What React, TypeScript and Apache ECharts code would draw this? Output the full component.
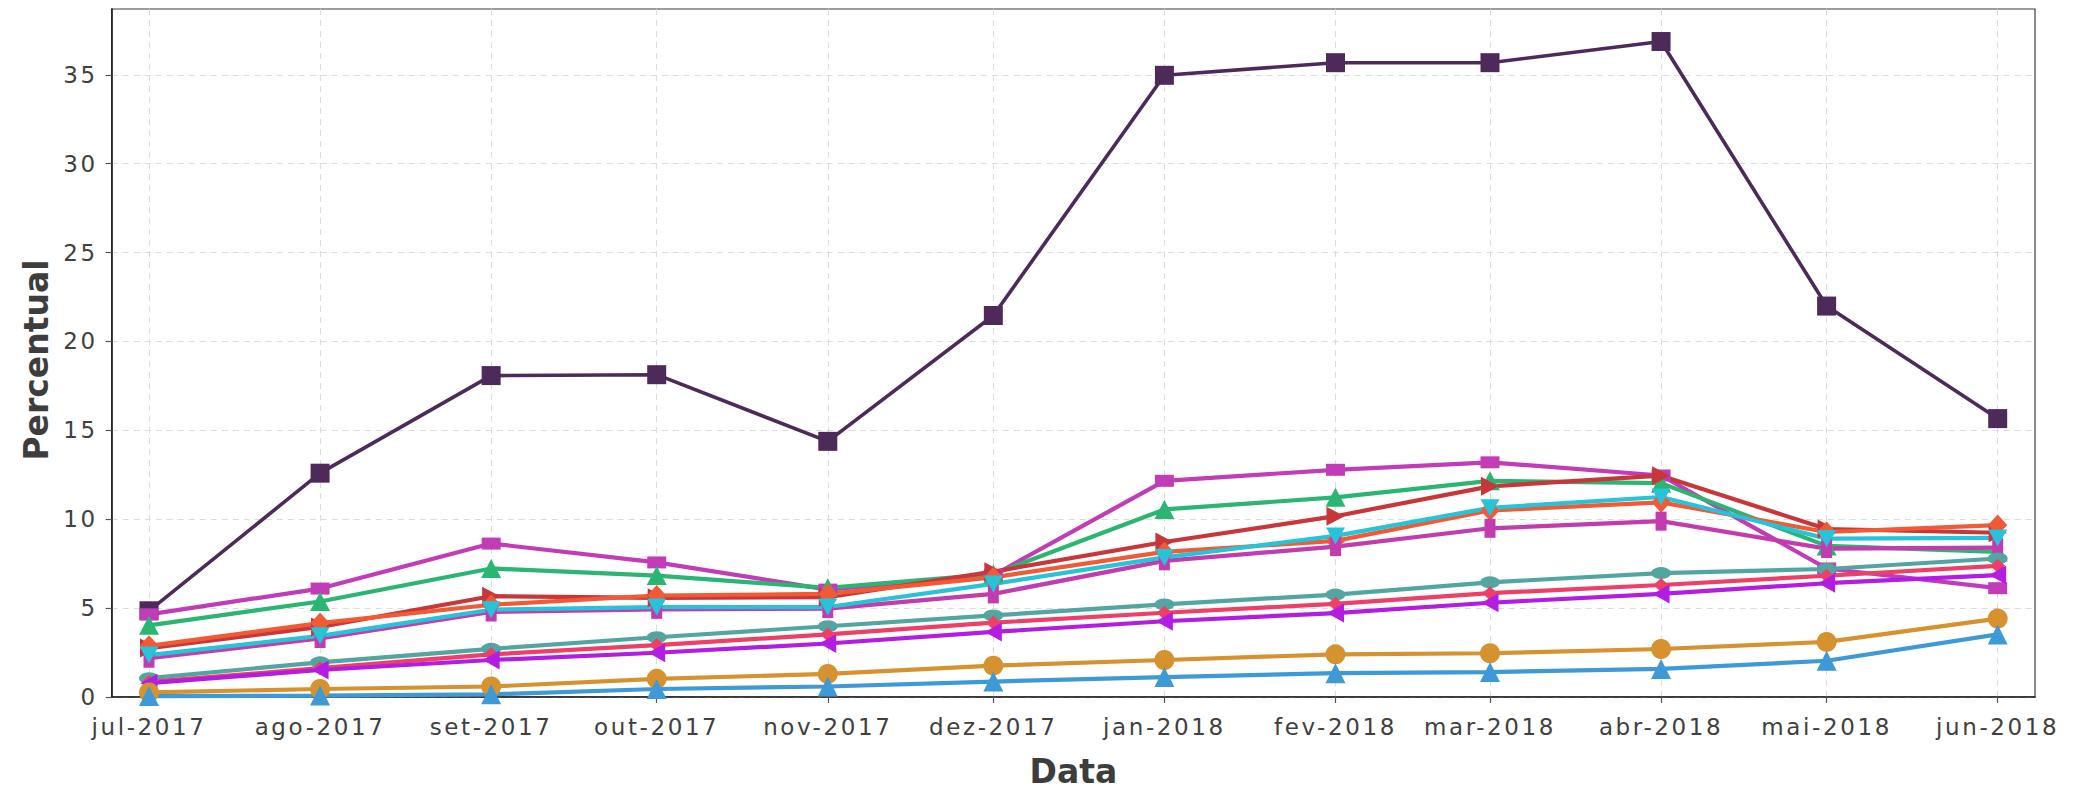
import React, { useEffect, useRef } from 'react';
import * as echarts from 'echarts';

// ---- data ----
const monthDates = [
  '2017-07-01', '2017-08-01', '2017-09-01', '2017-10-01', '2017-11-01', '2017-12-01',
  '2018-01-01', '2018-02-01', '2018-03-01', '2018-04-01', '2018-05-01', '2018-06-01',
];
const monthLabels = [
  'jul-2017', 'ago-2017', 'set-2017', 'out-2017', 'nov-2017', 'dez-2017',
  'jan-2018', 'fev-2018', 'mar-2018', 'abr-2018', 'mai-2018', 'jun-2018',
];
const yTicks = [0, 5, 10, 15, 20, 25, 30, 35];

const serieTopo = [4.85, 12.59, 18.08, 18.13, 14.38, 21.46, 34.97, 35.68, 35.68, 36.87, 21.99, 15.66];
const serieMagentaQ = [4.65, 6.1, 8.63, 7.57, 6.04, 6.85, 12.16, 12.78, 13.2, 12.46, 7.23, 6.12];
const serieVerde = [4.03, 5.37, 7.23, 6.83, 6.14, 6.92, 10.55, 11.23, 12.16, 12.03, 8.5, 8.16];
const serieVermelho = [2.75, 3.94, 5.67, 5.58, 5.61, 7.05, 8.72, 10.17, 11.85, 12.45, 9.45, 9.24];
const serieLaranjaLos = [2.88, 4.16, 5.19, 5.71, 5.8, 6.73, 8.16, 8.78, 10.49, 10.95, 9.28, 9.67];
const serieMagentaB = [2.18, 3.29, 4.78, 4.93, 4.97, 5.8, 7.66, 8.46, 9.49, 9.89, 8.35, 8.4];
const serieCiano = [2.36, 3.44, 4.91, 5.06, 5.06, 6.36, 7.85, 9.06, 10.64, 11.25, 8.91, 8.95];
const serieTeal = [1.06, 1.95, 2.71, 3.36, 3.98, 4.59, 5.21, 5.76, 6.45, 6.97, 7.2, 7.79];
const serieRosa = [0.85, 1.62, 2.4, 2.92, 3.52, 4.18, 4.74, 5.24, 5.84, 6.3, 6.82, 7.38];
const serieRoxo = [0.78, 1.52, 2.08, 2.49, 3.01, 3.66, 4.26, 4.72, 5.3, 5.8, 6.4, 6.86];
const serieLaranja = [0.26, 0.45, 0.59, 1.02, 1.3, 1.76, 2.08, 2.4, 2.46, 2.7, 3.1, 4.41];
const serieAzul = [0.05, 0.08, 0.15, 0.45, 0.59, 0.87, 1.12, 1.34, 1.4, 1.58, 2.04, 3.52];

const toTs = (s: string) => {
  const [y, m, d] = s.split('-').map(Number);
  return Date.UTC(y, m - 1, d);
};
const dates = monthDates.map(toTs);
const DAY = 86400000;

const TRI_RIGHT = 'path://M0,0L10,5L0,10Z';
const TRI_DOWN = 'path://M0,0L10,0L5,10Z';
const TRI_LEFT = 'path://M10,0L0,5L10,10Z';

type Def = { name: string; vals: number[]; color: string; symbol: string; size: number | number[]; width: number };

const defs: Def[] = [
  { name: 'A', vals: serieTopo, color: '#4E2A5A', symbol: 'rect', size: 19, width: 3.6 },
  { name: 'B', vals: serieMagentaQ, color: '#C13CB6', symbol: 'rect', size: [19, 12], width: 4.2 },
  { name: 'C', vals: serieVerde, color: '#2BB573', symbol: 'triangle', size: [20, 19], width: 4.2 },
  { name: 'D', vals: serieVermelho, color: '#C9363A', symbol: TRI_RIGHT, size: [18, 19], width: 4.2 },
  { name: 'E', vals: serieLaranjaLos, color: '#F15A34', symbol: 'diamond', size: [19, 21], width: 4.2 },
  { name: 'F', vals: serieMagentaB, color: '#C23CB0', symbol: 'rect', size: [11, 19], width: 4.2 },
  { name: 'G', vals: serieCiano, color: '#27C3D8', symbol: TRI_DOWN, size: [19, 17], width: 4.2 },
  { name: 'H', vals: serieTeal, color: '#52A6A2', symbol: 'circle', size: [20, 12], width: 4.2 },
  { name: 'I', vals: serieRosa, color: '#EE3F66', symbol: 'diamond', size: [15, 14], width: 4.2 },
  { name: 'J', vals: serieRoxo, color: '#B31DE3', symbol: TRI_LEFT, size: [17, 19], width: 4.2 },
  { name: 'K', vals: serieLaranja, color: '#D6922E', symbol: 'circle', size: 20, width: 4.2 },
  { name: 'L', vals: serieAzul, color: '#3E9AD6', symbol: 'triangle', size: 20, width: 4.2 },
];

export default function App() {
  const ref = useRef<HTMLDivElement>(null);

  useEffect(() => {
    if (!ref.current) return;
    const chart = echarts.init(ref.current, undefined, { renderer: 'svg' });
    const labelFont = 'DejaVu Sans';
    const option: any = {
      animation: false,
      backgroundColor: '#ffffff',
      grid: {
        left: 111.7,
        right: 48,
        top: 9,
        bottom: 90.7,
        show: true,
        borderColor: '#3a3a3a',
        borderWidth: 1.2,
        backgroundColor: 'transparent',
      },
      xAxis: {
        type: 'value',
        min: dates[0] - 6.76 * DAY,
        max: dates[dates.length - 1] + 6.76 * DAY,
        name: 'Data',
        nameLocation: 'middle',
        nameGap: 58,
        nameTextStyle: { fontFamily: labelFont, fontWeight: 'bold', fontSize: 33, color: '#3d3d3d' },
        axisLine: { show: true, onZero: false, lineStyle: { color: '#1a1a1a', width: 1.5 } },
        axisTick: { show: true, customValues: dates, length: 6, lineStyle: { color: '#555', width: 1.2 } },
        axisLabel: {
          customValues: dates,
          formatter: (v: number) => {
            const i = dates.findIndex((d) => Math.abs(d - v) < DAY / 2);
            return i >= 0 ? monthLabels[i] : '';
          },
          fontFamily: labelFont,
          fontSize: 23,
          color: '#404040',
          margin: 18,
        },
        splitLine: { show: true, lineStyle: { color: '#dcdcdc', type: [6, 5], width: 1 } },
      },
      yAxis: {
        type: 'value',
        min: 0,
        max: 38.7,
        name: 'Percentual',
        nameLocation: 'middle',
        nameGap: 59,
        nameRotate: 90,
        nameTextStyle: {
          fontFamily: labelFont,
          fontWeight: 'bold',
          fontSize: 33,
          color: '#3d3d3d',
          padding: [0, 14, 0, 0],
        },
        axisLine: { show: true, onZero: false, lineStyle: { color: '#1a1a1a', width: 1.5 } },
        axisTick: { show: true, customValues: yTicks, length: 6, lineStyle: { color: '#555', width: 1.2 } },
        axisLabel: { customValues: yTicks, fontFamily: labelFont, fontSize: 23, color: '#404040', margin: 14 },
        splitLine: { show: true, lineStyle: { color: '#dcdcdc', type: [6, 5], width: 1 } },
      },
      series: defs.map((d) => ({
        name: d.name,
        type: 'line',
        data: dates.map((t, i) => [t, d.vals[i]]),
        symbol: d.symbol,
        symbolSize: d.size,
        showSymbol: true,
        lineStyle: { color: d.color, width: d.width },
        itemStyle: { color: d.color, opacity: 1 },
        emphasis: { disabled: true },
      })),
    };
    chart.setOption(option);
    return () => chart.dispose();
  }, []);

  return (
    <>
      <style>{`.chartbox svg text { letter-spacing: 2.6px; } .chartbox svg text[style*="bold"] { letter-spacing: 0px; }`}</style>
      <div
        ref={ref}
        className="chartbox"
        style={{ position: 'fixed', left: 0, top: 0, width: 2083, height: 793, background: '#fff' }}
      />
    </>
  );
}
